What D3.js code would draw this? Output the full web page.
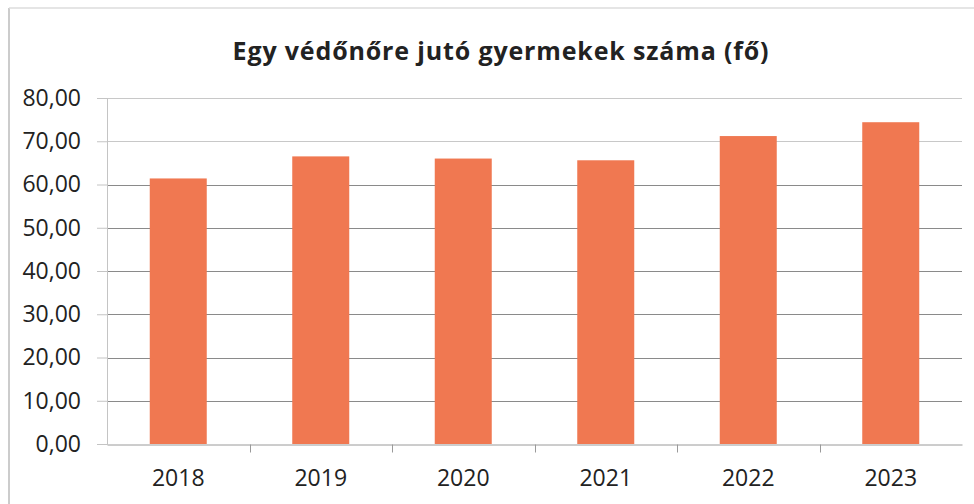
<!DOCTYPE html>
<html lang="hu">
<head>
<meta charset="utf-8">
<title>Egy védőnőre jutó gyermekek száma</title>
<script src="https://d3js.org/d3.v7.min.js"></script>
<style>
  body { margin: 0; background: #fff; }
  text { font-family: "Open Sans", "Noto Sans", sans-serif; fill: #222; }
</style>
</head>
<body>
<div id="chart"></div>
<script>
// data
var years = ["2018", "2019", "2020", "2021", "2022", "2023"];
var values = [61.4, 66.5, 66.0, 65.6, 71.2, 74.4];
var yTicks = [0, 10, 20, 30, 40, 50, 60, 70, 80];
var title = "Egy védőnőre jutó gyermekek száma (fő)";

var W = 974, H = 504;
var margin = {top: 98, right: 12, bottom: 60, left: 107};

var svg = d3.select("#chart").append("svg")
    .attr("width", W)
    .attr("height", H);

// frame edges (scan shows left and top border)
svg.append("line")
    .attr("x1", 9).attr("x2", 9).attr("y1", 8).attr("y2", H)
    .attr("stroke", "#bbb").attr("stroke-width", 1.5);
svg.append("line")
    .attr("x1", 9).attr("x2", W).attr("y1", 8).attr("y2", 8)
    .attr("stroke", "#ddd").attr("stroke-width", 1.5);

var x = d3.scaleBand()
    .domain(years)
    .range([margin.left, 962])
    .paddingInner(0.6)
    .paddingOuter(0.3);

var y = d3.scaleLinear()
    .domain([0, 80])
    .range([444, margin.top]);

// gridlines
svg.append("g")
  .selectAll("line")
  .data(yTicks.slice(1))
  .enter()
  .append("line")
    .attr("x1", margin.left)
    .attr("x2", 962)
    .attr("y1", function(d) { return Math.round(y(d)) + 0.5; })
    .attr("y2", function(d) { return Math.round(y(d)) + 0.5; })
    .attr("stroke", function(d) { return d >= 70 ? "#c8c8c8" : "#8a8a8a"; })
    .attr("stroke-width", 1);

// y axis
var yAxis = svg.append("g")
    .attr("transform", "translate(" + margin.left + ",0)")
    .call(d3.axisLeft(y)
      .tickValues(yTicks)
      .tickSize(10)
      .tickPadding(16)
      .tickFormat(function(d) { return d3.format(".2f")(d).replace(".", ","); }));
yAxis.select(".domain").attr("stroke", "#c4c4c4");
yAxis.selectAll(".tick line").attr("stroke", "#c4c4c4");
yAxis.selectAll("text")
    .style("font-size", "23px")
    .attr("fill", "#1e1e1e");

// x axis with ticks between categories
var xAxis = svg.append("g")
    .attr("transform", "translate(0," + (Math.round(y(0)) + 0.5) + ")")
    .call(d3.axisBottom(x).tickSize(0).tickPadding(25));
xAxis.select(".domain").attr("stroke", "#9a9a9a");
xAxis.selectAll("text")
    .style("font-size", "23px")
    .attr("fill", "#1e1e1e");

var step = x.step();
var bounds = years.map(function(d) { return x(d) + x.bandwidth() / 2 + step / 2; });
xAxis.selectAll(".sep")
  .data(bounds.slice(0, -1))
  .enter()
  .append("line")
    .attr("class", "sep")
    .attr("x1", function(d) { return Math.round(d) + 0.5; })
    .attr("x2", function(d) { return Math.round(d) + 0.5; })
    .attr("y1", 0)
    .attr("y2", 8)
    .attr("stroke", "#9a9a9a");

// bars
svg.append("g")
  .selectAll("rect")
  .data(values)
  .enter()
  .append("rect")
    .attr("x", function(d, i) { return x(years[i]); })
    .attr("y", function(d) { return y(d); })
    .attr("width", x.bandwidth())
    .attr("height", function(d) { return y(0) - y(d); })
    .attr("fill", "#F07851");

// title
svg.append("text")
    .attr("x", 501)
    .attr("y", 60)
    .attr("text-anchor", "middle")
    .style("font-size", "25px")
    .style("font-weight", "bold")
    .style("letter-spacing", "0.85px")
    .text(title);
</script>
</body>
</html>
